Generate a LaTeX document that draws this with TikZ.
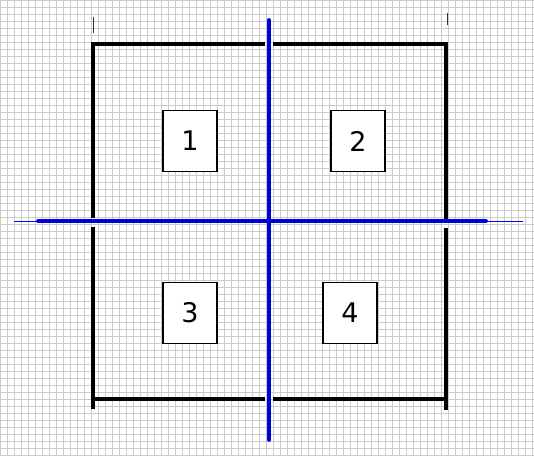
\documentclass[tikz,border=0pt]{standalone}
\usepackage{fontspec}
\setmainfont{DejaVu Sans}
\begin{document}
\begin{tikzpicture}[x=1pt,y=-1pt,
  gridline/.style={draw=black!20,line width=1pt},
  wall/.style={draw=black,line width=3.3pt},
  tickmark/.style={draw=black!80,line width=0.8pt},
  axisthick/.style={draw=blue!85!black,line width=3.8pt,line cap=round},
  axisthin/.style={draw=blue,line width=1pt},
  numbox/.style={draw=black,line width=1.4pt,fill=white,minimum width=54pt,minimum height=61pt,inner sep=0pt,font=\fontsize{27}{30}\selectfont}]
\useasboundingbox (0,0) rectangle (534,456);
\fill[white] (0,0) rectangle (534,456);
% grid
\foreach \i in {0,...,76} {\draw[gridline] (7*\i,0) -- (7*\i,456);}
\foreach \i in {0,...,65} {\draw[gridline] (0,7*\i) -- (534,7*\i);}
% tick marks
\coordinate (t1a) at (93,17); \coordinate (t1b) at (93,33);
\coordinate (t2a) at (447,13); \coordinate (t2b) at (447,25);
\draw[tickmark] (t1a) -- (t1b);
\draw[tickmark] (t2a) -- (t2b);
% square walls
\coordinate (TL) at (93,44); \coordinate (TR) at (446,44);
\coordinate (BL) at (93,399); \coordinate (BR) at (446,399);
\coordinate (TM1) at (265,44); \coordinate (TM2) at (273,44);
\coordinate (BM1) at (265,399); \coordinate (BM2) at (273,399);
\coordinate (LM1) at (93,218); \coordinate (LM2) at (93,227);
\coordinate (RM1) at (446,221); \coordinate (RM2) at (446,228);
\coordinate (LB) at (93,409); \coordinate (RB) at (446,410);
\draw[wall] (LM1) -- (TL) -- (TM1);
\draw[wall] (TM2) -- (TR) -- (RM1);
\draw[wall] (LM2) -- (LB);
\draw[wall] (BL) -- (BM1);
\draw[wall] (BM2) -- (BR);
\draw[wall] (RM2) -- (RB);
% blue axes
\coordinate (V1) at (269,20); \coordinate (V2) at (269,440);
\coordinate (H1) at (14,221); \coordinate (H2) at (523,221);
\coordinate (H1t) at (38,221); \coordinate (H2t) at (486,221);
\draw[axisthin] (H1) -- (H2);
\draw[axisthick] (H1t) -- (H2t);
\draw[axisthick] (V1) -- (V2);
% number boxes
\node[numbox] (n1) at (190,141) {1};
\node[numbox] (n2) at (358,141) {2};
\node[numbox] (n3) at (190,313) {3};
\node[numbox] (n4) at (350,313) {4};
\end{tikzpicture}
\end{document}
